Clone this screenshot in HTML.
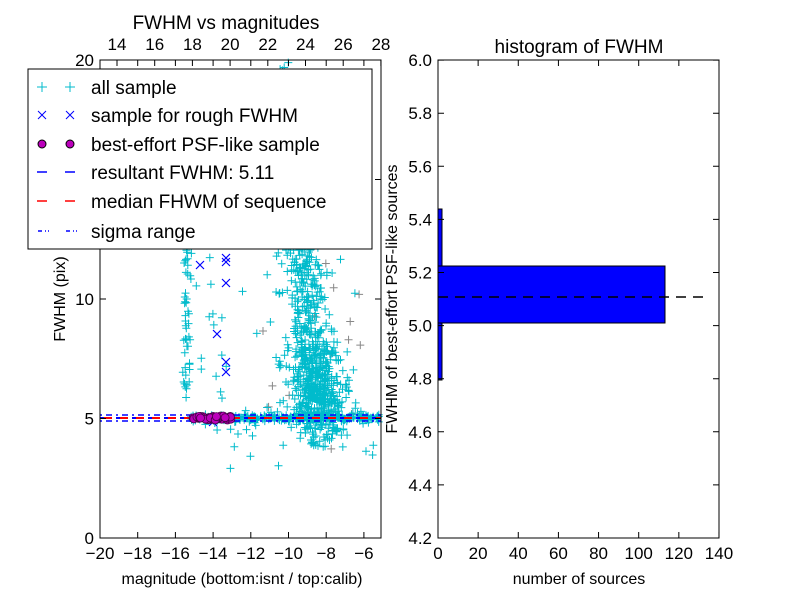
<!DOCTYPE html>
<html><head><meta charset="utf-8"><style>
body{margin:0;background:#fff}
svg text{font-family:"Liberation Sans","DejaVu Sans",sans-serif;fill:#000}
</style></head><body>
<svg id="s" width="800" height="600" xmlns="http://www.w3.org/2000/svg">
<rect width="800" height="600" fill="#fff"/>
<g id="pts"></g>
<line x1="100" y1="415" x2="381" y2="415" stroke="#00f" stroke-width="1.5" stroke-dasharray="2,4,6,4"/>
<line x1="100" y1="421" x2="381" y2="421" stroke="#00f" stroke-width="1.5" stroke-dasharray="2,4,6,4"/>
<line x1="100" y1="418" x2="381" y2="418" stroke="#00f" stroke-width="2" stroke-dasharray="8,8"/>
<line x1="104" y1="418" x2="381" y2="418" stroke="#f00" stroke-width="2" stroke-dasharray="8,8"/>
<g id="mag"></g>
<rect x="100" y="60" width="281" height="478" fill="none" stroke="#000" stroke-width="1"/>
<g id="lt" font-size="17"></g>
<text x="226" y="29" font-size="19" text-anchor="middle">FWHM vs magnitudes</text>
<text x="242" y="584" font-size="16" text-anchor="middle">magnitude (bottom:isnt / top:calib)</text>
<text transform="translate(65,299) rotate(-90)" font-size="16" text-anchor="middle">FWHM (pix)</text>
<rect x="28" y="69" width="344" height="180" fill="#fff" stroke="#000"/>
<g font-size="19">
<text x="91" y="94">all sample</text>
<text x="91" y="122">sample for rough FWHM</text>
<text x="91" y="151">best-effort PSF-like sample</text>
<text x="91" y="179">resultant FWHM: 5.11</text>
<text x="91" y="208">median FHWM of sequence</text>
<text x="91" y="238">sigma range</text>
</g>
<g stroke="#0bc" stroke-width="1"><path d="M37 87h10M42 82v10M65 87h10M70 82v10"/></g>
<g stroke="#00f" stroke-width="1"><path d="M38 111l8 8M46 111l-8 8M66 111l8 8M74 111l-8 8"/></g>
<circle cx="42" cy="144" r="4" fill="#b0b" stroke="#000"/><circle cx="70" cy="144" r="4" fill="#b0b" stroke="#000"/>
<path d="M37 172h10M65 172h10" stroke="#00f" stroke-width="1.5"/>
<path d="M37 201h10M65 201h10" stroke="#f00" stroke-width="1.5"/>
<path d="M38 231h4M45 231h1M48 231h1M66 231h4M73 231h1M76 231h1" stroke="#00f" stroke-width="1.5"/>
<rect x="438" y="266" width="227" height="57" fill="#00f" stroke="#000"/>
<rect x="438" y="209" width="4" height="57" fill="#00f" stroke="#000"/>
<rect x="438" y="323" width="4" height="57" fill="#00f" stroke="#000"/>
<line x1="438" y1="297" x2="710" y2="297" stroke="#000" stroke-width="1.5" stroke-dasharray="10,7"/>
<rect x="438" y="60" width="281" height="478" fill="none" stroke="#000"/>
<g id="rt" font-size="17"></g>
<text x="579" y="53" font-size="19" text-anchor="middle">histogram of FWHM</text>
<text x="579" y="584" font-size="16" text-anchor="middle">number of sources</text>
<text transform="translate(397,299) rotate(-90)" font-size="16" text-anchor="middle">FWHM of best-effort PSF-like sources</text>
</svg>
<script>
var NS="http://www.w3.org/2000/svg";
function el(t,a,p,txt){var e=document.createElementNS(NS,t);for(var k in a)e.setAttribute(k,a[k]);if(txt!=null)e.textContent=txt;p.appendChild(e);return e;}
var seed=7;function r(){seed=(seed*16807)%2147483647;return seed/2147483647;}
function g(){return (r()+r()+r()+r()-2)/1.15;}
var lt=document.getElementById('lt'),rt=document.getElementById('rt');
var tk="";
for(var i=0;i<8;i++){var x=100+i*37.7;tk+="M"+x+" 538v-6M"+x+" 60v6";el('text',{x:x,y:559,'text-anchor':'middle'},lt,"\u2212"+(20-2*i));}
for(var i=0;i<8;i++){var x=117+i*37.7;tk+="M"+x+" 60v6";el('text',{x:x,y:50,'text-anchor':'middle'},lt,String(14+2*i));}
[0,5,10,15,20].forEach(function(v){var y=538-v*23.9;tk+="M100 "+y+"h6M381 "+y+"h-6";if(v!=15)el('text',{x:94,y:y+6,'text-anchor':'end'},lt,String(v));});
el('path',{d:tk,stroke:'#000','stroke-width':1,fill:'none'},lt);
var rk="";
for(var i=0;i<8;i++){var x=438+i*40.14;rk+="M"+x+" 538v-6M"+x+" 60v6";el('text',{x:x,y:559,'text-anchor':'middle'},rt,String(20*i));}
for(var i=0;i<10;i++){var v=4.2+0.2*i,y=538-i*53.1;rk+="M438 "+y+"h6M719 "+y+"h-6";el('text',{x:432,y:y+6,'text-anchor':'end'},rt,v.toFixed(1));}
el('path',{d:rk,stroke:'#000','stroke-width':1,fill:'none'},rt);
var d="",dg="";
function plus(x,y){if(x<101||x>380||y<61||y>537)return;d+="M"+(x-4).toFixed(1)+" "+y.toFixed(1)+"h8M"+x.toFixed(1)+" "+(y-4).toFixed(1)+"v8";}
for(var i=0;i<650;i++){var t=Math.pow(r(),0.6);var y=60+t*360;var w=6+t*24;var cx=283+t*35;plus(cx+g()*w,y);}
for(var i=0;i<250;i++){var y=350+r()*75;plus(318+g()*22,y);}
for(var i=0;i<320;i++){plus(190+r()*190,418+g()*3+(r()<0.15?g()*10:0));}
for(var i=0;i<50;i++){plus(325+g()*30,425+r()*22);}
for(var i=0;i<10;i++){plus(230+r()*150,430+r()*40);}
for(var i=0;i<55;i++){plus(187+g()*4+(r()<0.35?r()*35:0),250+r()*150);}
for(var i=0;i<35;i++){plus(180+r()*190,100+r()*330);}
for(var i=0;i<20;i++){var x=260+r()*110,y=200+r()*250;dg+="M"+(x-4)+" "+y+"h8M"+x+" "+(y-4)+"v8";}
var pg=document.getElementById('pts');
el('path',{d:dg,stroke:'#888','stroke-width':1},pg);
el('path',{d:d,stroke:'#0bc','stroke-width':1},pg);
var xs=[[200,265],[226,262],[226,283],[217,334],[226,362],[226,372],[226,258],[213,422]],dx="";
xs.forEach(function(p){dx+="M"+(p[0]-4)+" "+(p[1]-4)+"l8 8M"+(p[0]+4)+" "+(p[1]-4)+"l-8 8";});
el('path',{d:dx,stroke:'#00f','stroke-width':1.2},pg);
var m=document.getElementById('mag');
for(var i=0;i<40;i++){el('circle',{cx:(193+r()*38).toFixed(1),cy:(416+r()*4).toFixed(1),r:4,fill:'#b0b',stroke:'#404','stroke-width':0.8},m);}
</script>
</body></html>
